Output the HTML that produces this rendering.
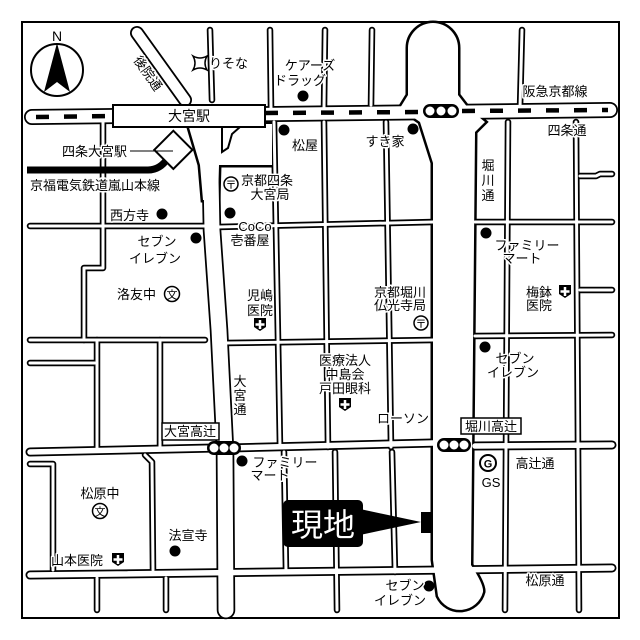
<!DOCTYPE html>
<html><head><meta charset="utf-8"><style>
html,body{margin:0;padding:0;background:#fff}
svg{display:block}
text{font-family:"Liberation Sans","Noto Sans CJK JP",sans-serif;fill:#000}
.l{font-size:13px;paint-order:stroke;stroke:#fff;stroke-width:3px;stroke-linejoin:round}
.thin{stroke-width:var(--thin)}.med{stroke-width:var(--med)}.wide{stroke-width:var(--wide)}.omi{stroke-width:var(--omi)}.koin{stroke-width:var(--koin)}
</style></head><body>
<svg width="640" height="640" viewBox="0 0 640 640" xmlns="http://www.w3.org/2000/svg">
<rect width="640" height="640" fill="#fff"/>
<rect x="22" y="22" width="597" height="596" fill="#fff" stroke="#000" stroke-width="2"/>
<defs>
<g id="roads" stroke-linecap="round" stroke-linejoin="round" fill="none">
<g class="thin">
<path d="M210,30 L212,100"/><path d="M270,30 L271,108"/><path d="M325,30 L324,108"/><path d="M372,30 L371,105"/><path d="M522,30 L520,108"/>
<path d="M103,122 L103,268 L84,268 L84,340"/>
<path d="M218,227 L433,222"/><path d="M475,222 L612,222"/>
<path d="M30,226 L205,226"/>
<path d="M274,122 L280,447"/><path d="M284,452 L286,572"/>
<path d="M324,122 L328,447"/><path d="M386,122 L391,447"/><path d="M392,452 L395,572"/>
<path d="M335,452 L337,610"/>
<path d="M508,122 L505,610"/><path d="M576,122 L579,610"/>
<path d="M580,176 L596,176 L600,174 L612,174"/><path d="M580,290 L612,290"/>
<path d="M475,336 L612,335"/>
<path d="M30,340 L205,340"/><path d="M225,343 L433,340"/>
<path d="M30,363 L95,363"/><path d="M97,340 L97,450"/><path d="M160,340 L160,450"/>
<path d="M30,464 L53,464 L53,570"/><path d="M145,455 L152,462 L153,570"/>
<path d="M97,578 L97,610"/><path d="M166,578 L166,610"/>
</g>
<g class="med">
<path d="M30,452 L215,448"/><path d="M230,448 L433,443"/><path d="M475,446 L612,445"/>
<path d="M30,575 L612,568"/>
</g>
<g class="wide"><path d="M32,117 L610,110"/></g>
<g class="omi"><path d="M210,127 L212,230 L219,330 L225,450 L226,610"/></g>
<g class="koin"><path d="M137,33 L185,100"/></g>
</g>
<path id="hori" d="M408,95 L408,48 A25,25 0 0 1 458,48 L458,95 L468,108 L485,122 L475,132 L471,565 Q484,585 483,592 A24,24 0 0 1 438,596 L433,560 L433,163 L420,122 L400,108 Z"/>
<path id="plaza" d="M188,124 L272,124 L272,165 L219,165 L218,200 L203,200 L200,165 Z"/>
</defs>
<use href="#hori" fill="#000" stroke="#000" stroke-width="5"/>
<use href="#plaza" fill="#000" stroke="#000" stroke-width="5"/>
<use href="#roads" stroke="#000" style="--thin:6.5px;--med:9px;--wide:16px;--omi:18.5px;--koin:14px"/>
<use href="#roads" stroke="#fff" style="--thin:3px;--med:5.5px;--wide:12.5px;--omi:15px;--koin:10.5px"/>
<use href="#hori" fill="#fff" stroke="none"/>
<use href="#plaza" fill="#fff" stroke="none"/>
<path d="M222,127 L222,152 L228,148 L232,134 L240,127" fill="none" stroke="#000" stroke-width="2"/>
<g stroke="#000" stroke-width="4.5" stroke-dasharray="13 15">
<path d="M36,117 L113,116"/><path d="M265,113 L423,112"/><path d="M462,111 L608,110"/>
</g>
<rect x="113" y="105" width="152" height="22" fill="#fff" stroke="#000" stroke-width="2"/>
<text x="189" y="121" font-size="14" text-anchor="middle">大宮駅</text>
<path d="M27,170 L148,170 Q160,170 168,158" fill="none" stroke="#000" stroke-width="7"/>
<rect x="160" y="136" width="27" height="27" transform="rotate(45 173 149.5)" fill="#fff" stroke="#000" stroke-width="2"/>
<line x1="130" y1="151" x2="173" y2="151" stroke="#000" stroke-width="1"/>
<text class="l" x="62" y="156" font-size="13">四条大宮駅</text>
<text class="l" x="30" y="190" font-size="13.5">京福電気鉄道嵐山本線</text>
<circle cx="57" cy="70" r="26" fill="#fff" stroke="#000" stroke-width="2"/>
<polygon points="57,43 70,92 57,82 44,92" fill="#000"/>
<text x="57" y="41" font-size="14" text-anchor="middle">N</text>
<g>
<rect x="423" y="104" width="36" height="14" rx="7" fill="#000"/>
<circle cx="430" cy="111" r="4.5" fill="#fff"/><circle cx="441" cy="111" r="4.5" fill="#fff"/><circle cx="452" cy="111" r="4.5" fill="#fff"/>
<rect x="437" y="438" width="34" height="14" rx="7" fill="#000"/>
<circle cx="444" cy="445" r="4.5" fill="#fff"/><circle cx="454" cy="445" r="4.5" fill="#fff"/><circle cx="464" cy="445" r="4.5" fill="#fff"/>
<rect x="207" y="441" width="34" height="14" rx="7" fill="#000"/>
<circle cx="214" cy="448" r="4.5" fill="#fff"/><circle cx="224" cy="448" r="4.5" fill="#fff"/><circle cx="234" cy="448" r="4.5" fill="#fff"/>
</g>
<g fill="#000">
<circle cx="162" cy="214" r="5.5"/><circle cx="196" cy="238" r="5.5"/><circle cx="230" cy="213" r="5.5"/>
<circle cx="284" cy="130" r="5.5"/><circle cx="413" cy="129" r="5.5"/><circle cx="303" cy="96" r="5.5"/>
<circle cx="486" cy="233" r="5.5"/><circle cx="485" cy="347" r="5.5"/><circle cx="242" cy="461" r="5.5"/>
<circle cx="175" cy="551" r="5.5"/><circle cx="429" cy="586" r="5.5"/>
</g>
<text class="l" x="110" y="220">西方寺</text>
<text class="l" x="157" y="246" text-anchor="middle">セブン</text>
<text class="l" x="155" y="263" text-anchor="middle">イレブン</text>
<text class="l" x="117" y="299">洛友中</text>
<circle cx="172" cy="294" r="7.5" fill="#fff" stroke="#000" stroke-width="1.5"/><text x="172" y="298.5" font-size="11" text-anchor="middle">文</text>
<text class="l" x="260" y="300" text-anchor="middle">児嶋</text>
<text class="l" x="260" y="315" text-anchor="middle">医院</text>
<circle cx="231" cy="184" r="7" fill="#fff" stroke="#000" stroke-width="1.5"/><text x="231" y="188.5" font-size="11" text-anchor="middle">〒</text>
<text class="l" x="267" y="185" text-anchor="middle">京都四条</text>
<text class="l" x="270" y="199" text-anchor="middle">大宮局</text>
<text class="l" x="255" y="231" font-size="11" text-anchor="middle">CoCo</text>
<text class="l" x="250" y="245" text-anchor="middle">壱番屋</text>
<text class="l" x="305" y="150" text-anchor="middle">松屋</text>
<text class="l" x="385" y="146" text-anchor="middle">すき家</text>
<text class="l" x="310" y="70" text-anchor="middle">ケアーズ</text>
<text class="l" x="300" y="85" text-anchor="middle">ドラッグ</text>
<path d="M193,56 Q200,60 207,56 Q203,63 207,70 Q200,66 193,70 Q197,63 193,56 Z" fill="#fff" stroke="#000" stroke-width="1.5"/>
<text class="l" x="209" y="68">りそな</text>
<text class="l" x="133" y="60" font-size="11" transform="rotate(55 133 60)">後院通</text>
<text class="l" x="555" y="96" text-anchor="middle">阪急京都線</text>
<text class="l" x="567" y="135" text-anchor="middle">四条通</text>
<text class="l" x="488" y="170" text-anchor="middle">堀</text>
<text class="l" x="488" y="185" text-anchor="middle">川</text>
<text class="l" x="488" y="200" text-anchor="middle">通</text>
<text class="l" x="527" y="250" text-anchor="middle">ファミリー</text>
<text class="l" x="522" y="263" text-anchor="middle">マート</text>
<text class="l" x="539" y="297" text-anchor="middle">梅鉢</text>
<text class="l" x="539" y="310" text-anchor="middle">医院</text>
<text class="l" x="400" y="297" text-anchor="middle">京都堀川</text>
<text class="l" x="400" y="310" text-anchor="middle">仏光寺局</text>
<circle cx="421" cy="323" r="7" fill="#fff" stroke="#000" stroke-width="1.5"/><text x="421" y="327.5" font-size="11" text-anchor="middle">〒</text>
<text class="l" x="515" y="363" text-anchor="middle">セブン</text>
<text class="l" x="513" y="377" text-anchor="middle">イレブン</text>
<text class="l" x="345" y="365" text-anchor="middle">医療法人</text>
<text class="l" x="345" y="379" text-anchor="middle">中島会</text>
<text class="l" x="345" y="393" text-anchor="middle">戸田眼科</text>
<text class="l" x="403" y="423" text-anchor="middle">ローソン</text>
<rect x="461" y="418" width="60" height="16" fill="#fff" stroke="#000" stroke-width="1.5"/>
<text x="491" y="431" font-size="13" text-anchor="middle">堀川高辻</text>
<rect x="162" y="423" width="57" height="17" fill="#fff" stroke="#000" stroke-width="1.5"/>
<text x="190" y="436" font-size="13" text-anchor="middle">大宮高辻</text>
<circle cx="488" cy="463" r="8" fill="#fff" stroke="#000" stroke-width="2"/><text x="488" y="467.5" font-size="11" font-weight="bold" text-anchor="middle">G</text>
<text class="l" x="491" y="487" text-anchor="middle">GS</text>
<text class="l" x="535" y="468" text-anchor="middle">高辻通</text>
<text class="l" x="545" y="585" text-anchor="middle">松原通</text>
<text class="l" x="285" y="467" text-anchor="middle">ファミリー</text>
<text class="l" x="270" y="480" text-anchor="middle">マート</text>
<text class="l" x="240" y="386" text-anchor="middle">大</text>
<text class="l" x="240" y="400" text-anchor="middle">宮</text>
<text class="l" x="240" y="414" text-anchor="middle">通</text>
<text class="l" x="100" y="498" text-anchor="middle">松原中</text>
<circle cx="100" cy="511" r="7.5" fill="#fff" stroke="#000" stroke-width="1.5"/><text x="100" y="515.5" font-size="11" text-anchor="middle">文</text>
<text class="l" x="188" y="540" text-anchor="middle">法宣寺</text>
<text class="l" x="51" y="565">山本医院</text>
<text class="l" x="405" y="590" text-anchor="middle">セブン</text>
<text class="l" x="400" y="605" text-anchor="middle">イレブン</text>
<g fill="#000">
<path d="M112,553 h12 v9 l-6,4 l-6,-4 Z"/><path d="M254,318 h12 v9 l-6,4 l-6,-4 Z"/><path d="M559,285 h12 v9 l-6,4 l-6,-4 Z"/><path d="M339,398 h12 v9 l-6,4 l-6,-4 Z"/>
</g>
<g stroke="#fff" stroke-width="2.5">
<path d="M118,555 v9 M113.5,559.5 h9"/><path d="M260,320 v9 M255.5,324.5 h9"/><path d="M565,287 v9 M560.5,291.5 h9"/><path d="M345,400 v9 M340.5,404.5 h9"/>
</g>
<rect x="283" y="500" width="80" height="47" rx="5" fill="#000"/>
<text x="323" y="536" font-size="32" text-anchor="middle" style="fill:#fff">現地</text>
<polygon points="360,509 360,535 421,522" fill="#000"/>
<rect x="421" y="512" width="11" height="21" fill="#000"/>
</svg>
</body></html>
